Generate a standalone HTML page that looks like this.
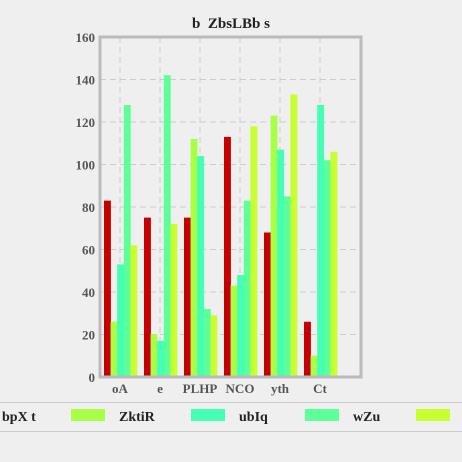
<!DOCTYPE html>
<html><head><meta charset="utf-8"><style>
body{margin:0;background:#efefef;width:462px;height:462px;overflow:hidden;font-family:"Liberation Serif","DejaVu Serif",serif}
svg{display:block}
svg text{font-family:"Liberation Serif","DejaVu Serif",serif;font-weight:bold;white-space:pre}
</style></head><body>
<svg id="c" width="462" height="462">
<rect x="0" y="0" width="462" height="462" fill="#efefef"/>
<text x="231" y="28" text-anchor="middle" font-size="15" fill="#222">b  ZbsLBb s</text>
<g id="grid"></g><g id="bars"></g><g id="axes"></g>
<line x1="0" y1="402.5" x2="462" y2="402.5" stroke="#ccc"/>
<line x1="0" y1="431.5" x2="462" y2="431.5" stroke="#ccc"/>
<g id="legend"></g>
</svg>
<script>
const categories=["oA","e","PLHP","NCO","yth","Ct"];
const s0=[83,75,75,113,68,26];
const s1=[26,20,112,43,123,10];
const s2=[53,17,104,48,107,128];
const s3=[128,142,32,83,85,102];
const s4=[62,72,29,118,133,106];
const yTicks=[0,20,40,60,80,100,120,140,160];
const legendNames=["ZktiR","ubIq","wZu",""];
const series=[s0,s1,s2,s3,s4];
const colors=["#c40000","#a8ff48","#44ffb4","#5cff98","#c8ff30"];
const NS="http://www.w3.org/2000/svg";
const L=100,R=361,T=37,B=377,yMax=160;
const y=v=>B-(v/yMax)*(B-T);
const band=40;
const xc=i=>120+band*i;
function mk(t,a,p){const e=document.createElementNS(NS,t);for(const k in a)e.setAttribute(k,a[k]);p.appendChild(e);return e;}
const grid=document.getElementById('grid'),bars=document.getElementById('bars'),axes=document.getElementById('axes'),lg=document.getElementById('legend');
yTicks.forEach(t=>{
  if(t>0&&t<yMax){const g=mk('line',{x1:L,x2:R,y1:y(t),y2:y(t),stroke:'#ccc','stroke-dasharray':'6,4'},grid);
  
  }
  const tx=mk('text',{x:95,y:y(t)+5,'text-anchor':'end','font-size':13,fill:'#555'},axes);tx.textContent=t;
  
  
});
categories.forEach((c,i)=>{
  const g=mk('line',{x1:xc(i),x2:xc(i),y1:T,y2:B,stroke:'#ccc','stroke-dasharray':'6,4'},grid);
  
  
  const tx=mk('text',{x:xc(i),y:393,'text-anchor':'middle','font-size':13,fill:'#555'},axes);tx.textContent=c;
  
  
  const bw=6.6,start=xc(i)-16;
  series.forEach((s,j)=>{
    const r=mk('rect',{x:start+j*bw,y:y(s[i]),width:bw+0.3,height:B-y(s[i]),fill:colors[j]},bars);
    
    
  });
});
const fr=mk('rect',{x:L,y:T,width:R-L,height:B-T,fill:'none',stroke:'#bbb','stroke-width':3},axes);


const lt=mk('text',{x:2,y:421,'font-size':14,fill:'#222'},lg);lt.textContent='bpX t';


const sx=[71,191,305,416];
legendNames.forEach((n,k)=>{
  const r=mk('rect',{x:sx[k],y:409,width:34,height:12,fill:colors[k+1]},lg);
  
  
  if(n){const t=mk('text',{x:sx[k]+48,y:421,'font-size':14,fill:'#222'},lg);t.textContent=n;
  
  }
});
</script>
</body></html>
